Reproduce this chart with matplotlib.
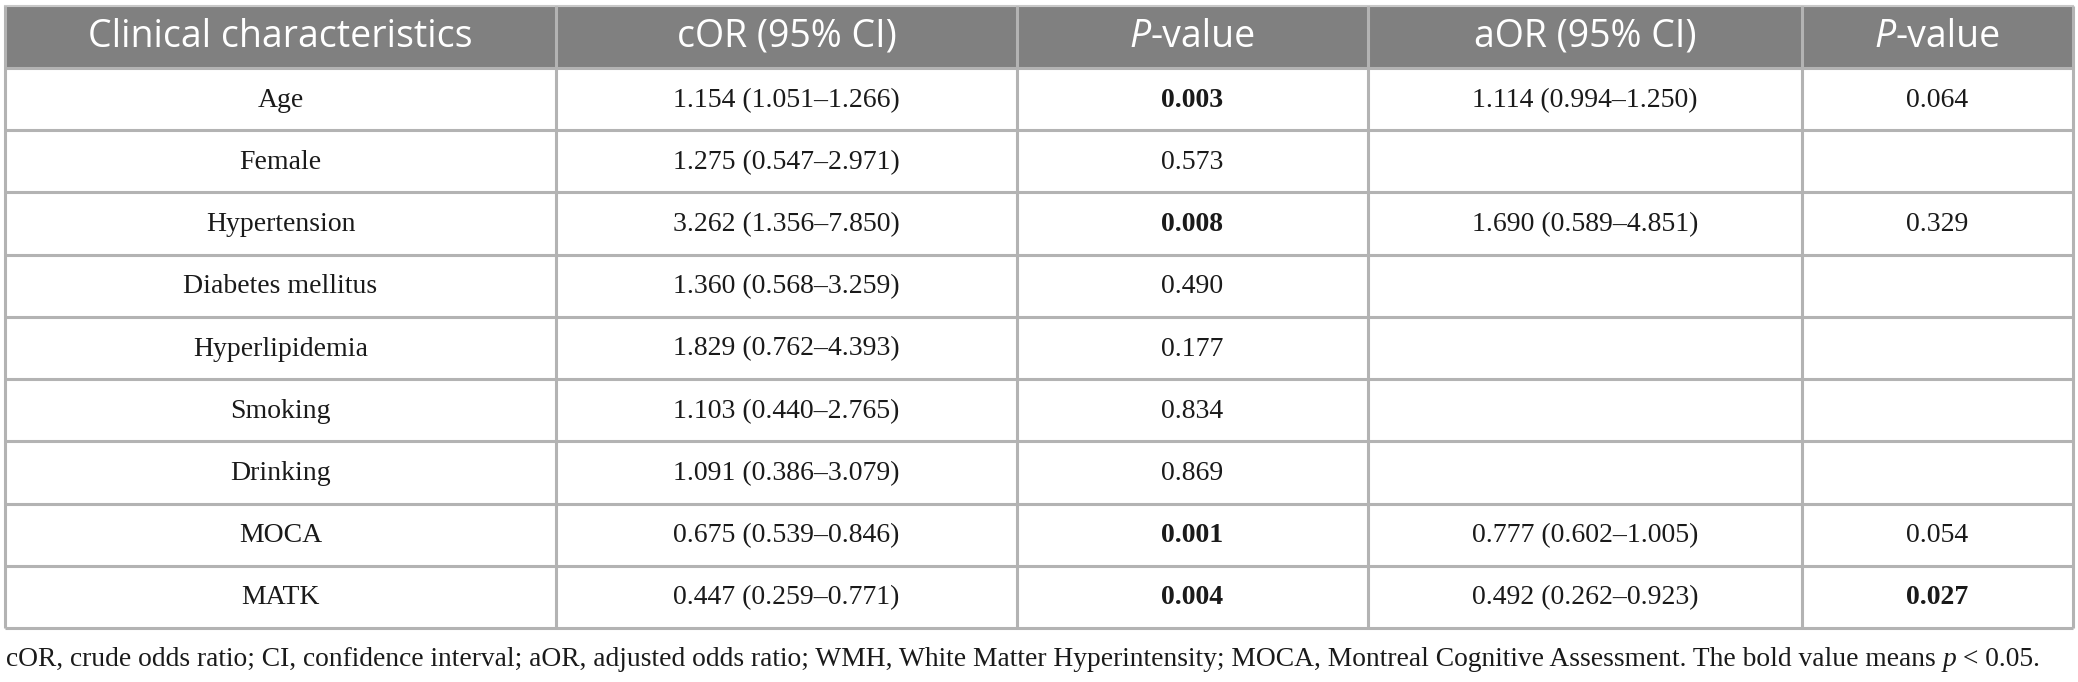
import matplotlib
matplotlib.use("Agg")
import matplotlib.pyplot as plt
from matplotlib.patches import Rectangle

# table content
headers = ["Clinical characteristics", "cOR (95% CI)", "P-value", "aOR (95% CI)", "P-value"]
features = ["Age", "Female", "Hypertension", "Diabetes mellitus", "Hyperlipidemia",
            "Smoking", "Drinking", "MOCA", "MATK"]
cor = ["1.154 (1.051–1.266)", "1.275 (0.547–2.971)", "3.262 (1.356–7.850)",
       "1.360 (0.568–3.259)", "1.829 (0.762–4.393)", "1.103 (0.440–2.765)",
       "1.091 (0.386–3.079)", "0.675 (0.539–0.846)", "0.447 (0.259–0.771)"]
p_crude = ["0.003", "0.573", "0.008", "0.490", "0.177", "0.834", "0.869", "0.001", "0.004"]
aor = ["1.114 (0.994–1.250)", "", "1.690 (0.589–4.851)", "", "", "", "",
       "0.777 (0.602–1.005)", "0.492 (0.262–0.923)"]
p_adj = ["0.064", "", "0.329", "", "", "", "", "0.054", "0.027"]
footnote = ("cOR, crude odds ratio; CI, confidence interval; aOR, adjusted odds ratio; "
            "WMH, White Matter Hyperintensity; MOCA, Montreal Cognitive Assessment. "
            "The bold value means ")

W, H = 2078, 682
col_edges = [5, 556, 1017, 1368, 1802, 2073]
top, head_bot, tab_bot = 6, 68, 628
row_h = (tab_bot - head_bot) / len(features)

head_bg = "#808080"
grid_c = "#b3b3b3"
txt_c = "#1a1a1a"
serif = "Liberation Serif"
sans = "Open Sans"

fig = plt.figure(figsize=(W / 100, H / 100), dpi=100)
ax = fig.add_axes([0, 0, 1, 1])
ax.set_xlim(0, W)
ax.set_ylim(H, 0)
ax.axis("off")
fig.canvas.draw()
renderer = fig.canvas.get_renderer()


def runs_text(x, y, runs, ha="center", **kw):
    # draw a sequence of (string, style) pieces as one line
    objs = []
    widths = []
    for s, st in runs:
        t = ax.text(0, y, s, va="center", ha="left", **st, **kw)
        bb = t.get_window_extent(renderer)
        objs.append(t)
        widths.append(bb.width)
    total = sum(widths)
    x0 = x - total / 2 if ha == "center" else x
    for t, w in zip(objs, widths):
        t.set_x(x0)
        x0 += w


# header band
ax.add_patch(Rectangle((col_edges[0], top), col_edges[-1] - col_edges[0], head_bot - top,
                       facecolor=head_bg, edgecolor="none"))

# grid
for i in range(len(features) + 1):
    y = head_bot + i * row_h
    ax.plot([col_edges[0], col_edges[-1]], [y, y], color=grid_c, lw=2.2, solid_capstyle="butt")
ax.plot([col_edges[0], col_edges[-1]], [top, top], color="#c8c8c8", lw=1.5)
for x in col_edges:
    ax.plot([x, x], [top, tab_bot], color=grid_c, lw=2.2, solid_capstyle="butt")

# header text
hy = (top + head_bot) / 2
hstyle = dict(fontfamily=sans, fontsize=27, color="white")
for j, h in enumerate(headers):
    cx = (col_edges[j] + col_edges[j + 1]) / 2
    if h.startswith("P-"):
        runs_text(cx, hy, [("P", dict(fontstyle="italic")), ("-value", {})], **hstyle)
    else:
        ax.text(cx, hy, h, ha="center", va="center", **hstyle)

# body
columns = [features, cor, p_crude, aor, p_adj]
for i in range(len(features)):
    cy = head_bot + (i + 0.5) * row_h + 1
    for j, col in enumerate(columns):
        val = col[i]
        if not val:
            continue
        cx = (col_edges[j] + col_edges[j + 1]) / 2
        bold = j in (2, 4) and float(val) < 0.05
        ax.text(cx, cy, val, ha="center", va="center", fontfamily=serif, fontsize=20,
                color=txt_c, fontweight="bold" if bold else "normal")

# footnote
runs_text(6, 659, [(footnote, {}), ("p", dict(fontstyle="italic")), (" < 0.05.", {})],
          ha="left", fontfamily=serif, fontsize=19.8, color=txt_c)

fig.savefig("out.png", dpi=100)
